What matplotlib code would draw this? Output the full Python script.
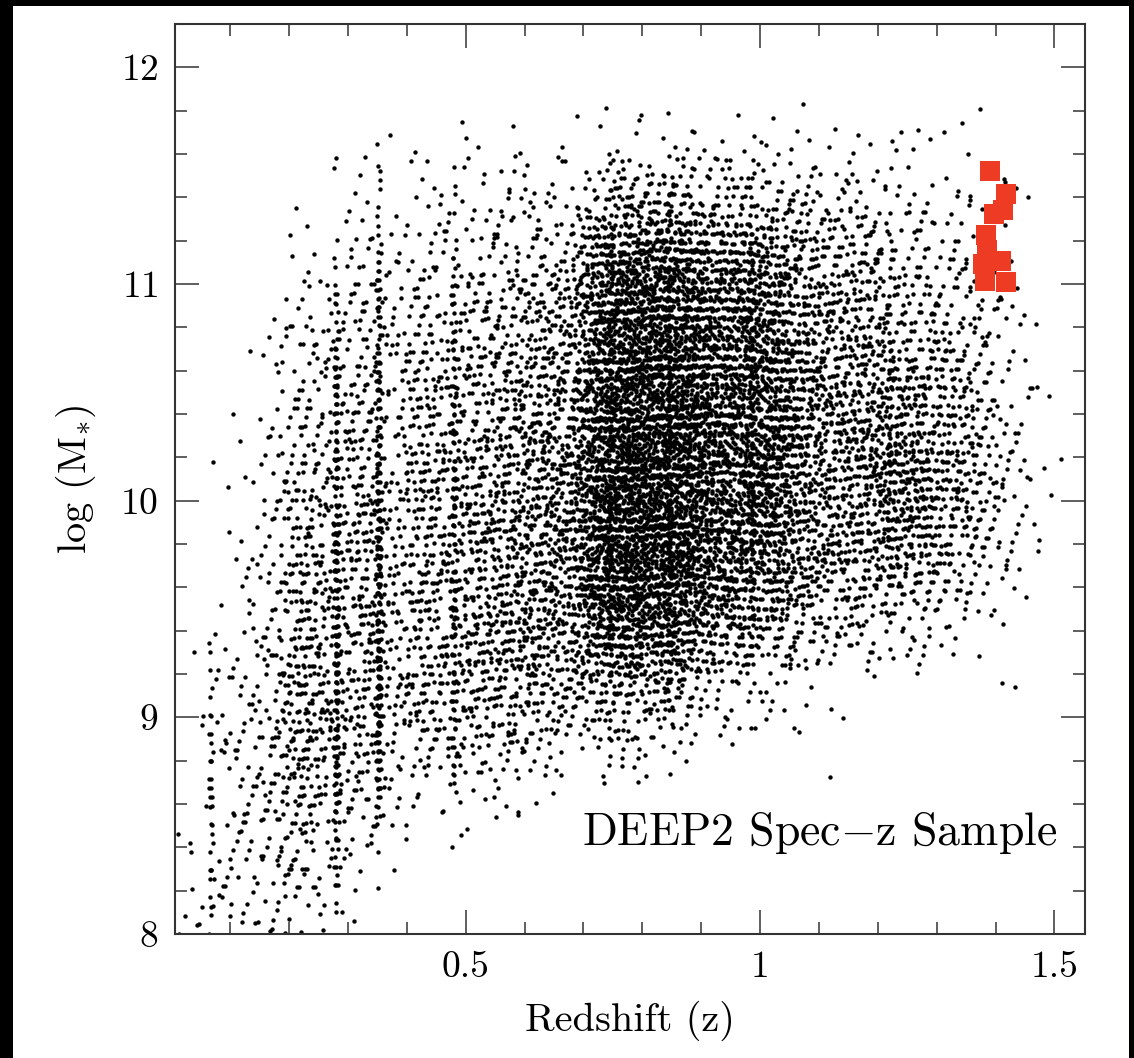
import matplotlib
matplotlib.use("Agg")
import matplotlib.pyplot as plt
import numpy as np
from matplotlib.patches import Rectangle
from matplotlib.ticker import MultipleLocator

plt.rcParams["font.family"] = ["cmr10", "DejaVu Serif"]
plt.rcParams["mathtext.fontset"] = "cm"
plt.rcParams["axes.formatter.use_mathtext"] = True

# bins used to read the cloud off the picture
dz, dm = 0.05, 0.25
z_edges = np.arange(0.0, 1.5, dz)       # 30 redshift bins, 0.00 .. 1.50
m_edges = np.arange(8.0, 12.0, dm)      # 16 mass bins, 8.00 .. 12.00

# galaxies per cell, one row per redshift bin, log(M) from 8.0 upward
counts = [
    [6, 2, 0, 0, 0, 0, 0, 0, 0, 0, 0, 0, 0, 0, 0, 0],
    [12, 10, 12, 12, 10, 2, 0, 0, 1, 0, 0, 0, 0, 0, 0, 0],
    [15, 12, 12, 12, 10, 8, 6, 4, 3, 1, 1, 0, 0, 0, 0, 0],
    [12, 15, 18, 20, 18, 15, 14, 12, 10, 7, 4, 2, 1, 0, 0, 0],
    [10, 20, 30, 40, 45, 40, 35, 30, 25, 20, 15, 10, 5, 1, 0, 0],
    [8, 18, 30, 45, 50, 45, 45, 40, 35, 30, 25, 18, 5, 1, 1, 0],
    [0, 5, 15, 30, 35, 35, 35, 35, 30, 28, 22, 18, 10, 5, 2, 0],
    [0, 6, 20, 40, 45, 45, 45, 40, 35, 30, 28, 22, 15, 6, 3, 0],
    [0, 0, 5, 20, 30, 35, 35, 35, 35, 30, 25, 20, 12, 6, 2, 0],
    [0, 0, 6, 25, 35, 40, 40, 40, 38, 35, 30, 25, 15, 8, 3, 0],
    [0, 0, 5, 22, 35, 40, 40, 40, 38, 32, 28, 22, 14, 7, 3, 0],
    [0, 0, 4, 20, 38, 45, 45, 45, 42, 38, 32, 25, 15, 8, 3, 0],
    [0, 0, 3, 15, 35, 50, 55, 55, 52, 45, 40, 32, 20, 10, 3, 0],
    [0, 0, 0, 8, 28, 45, 55, 55, 50, 45, 40, 32, 22, 10, 3, 0],
    [0, 0, 0, 12, 40, 95, 135, 135, 130, 125, 115, 105, 80, 22, 4, 0],
    [0, 0, 0, 12, 45, 100, 140, 145, 145, 140, 135, 125, 100, 32, 6, 0],
    [0, 0, 0, 8, 40, 95, 140, 150, 150, 145, 140, 130, 110, 36, 7, 0],
    [0, 0, 0, 3, 28, 75, 120, 135, 135, 130, 125, 115, 95, 32, 7, 0],
    [0, 0, 0, 2, 15, 50, 85, 100, 100, 100, 95, 88, 70, 26, 6, 0],
    [0, 0, 0, 1, 12, 42, 85, 105, 110, 110, 105, 95, 75, 26, 6, 0],
    [0, 0, 0, 1, 8, 35, 70, 95, 100, 100, 95, 85, 65, 22, 5, 0],
    [0, 0, 0, 1, 5, 20, 42, 58, 62, 62, 58, 50, 38, 18, 5, 0],
    [0, 0, 0, 0, 2, 15, 35, 45, 50, 50, 45, 40, 30, 14, 4, 0],
    [0, 0, 0, 0, 1, 12, 35, 50, 55, 55, 45, 38, 30, 15, 4, 0],
    [0, 0, 0, 0, 1, 10, 38, 65, 75, 62, 40, 28, 20, 10, 3, 0],
    [0, 0, 0, 0, 0, 8, 32, 58, 62, 50, 35, 25, 18, 8, 3, 0],
    [0, 0, 0, 0, 0, 5, 18, 35, 40, 35, 28, 20, 14, 7, 2, 0],
    [0, 0, 0, 0, 0, 4, 12, 25, 28, 25, 20, 15, 10, 5, 2, 0],
    [0, 0, 0, 0, 0, 2, 6, 12, 12, 10, 8, 6, 4, 2, 1, 0],
    [0, 0, 0, 0, 0, 0, 0, 2, 2, 2, 1, 0, 0, 0, 0, 0],
]

# redshift spikes (vertical stripes) and the share of their bin on them
spike_z = [0.067, 0.28, 0.352, 0.48, 0.745, 0.80, 0.845, 0.985, 1.22]
spike_share = [0.6, 0.5, 0.6, 0.3, 0.1, 0.1, 0.1, 0.12, 0.1]

# the red sample
red_z = [1.391, 1.418, 1.413, 1.397, 1.383, 1.385, 1.379, 1.409, 1.382, 1.418]
red_m = [11.520, 11.414, 11.340, 11.322, 11.228, 11.156, 11.091, 11.106, 11.014, 11.011]

x_ticks = [0.5, 1.0, 1.5]
x_labels = ["0.5", "1", "1.5"]
y_ticks = [8, 9, 10, 11, 12]

# spread each cell's count with a tent kernel one bin wide either side,
# positions from a 4-d Kronecker (low discrepancy) sequence
phi = 1.1673039782614187
alpha = [1.0 / phi ** k for k in range(1, 5)]
spike_of_bin = {}
for s, share in zip(spike_z, spike_share):
    spike_of_bin[int(s // dz)] = (s, share)

zs, ms = [], []
n = 0
for i, row in enumerate(counts):
    for j, c in enumerate(row):
        for k in range(c):
            n += 1
            u1, u2, v1, v2 = [(0.5 + a * n) % 1.0 for a in alpha]
            z = z_edges[i] + (u1 + u2 - 0.5) * dz
            if i in spike_of_bin:
                s, share = spike_of_bin[i]
                if (n * 0.6180339887) % 1.0 < share:
                    z = s + (u1 + u2 - 1.0) * 0.005
            zs.append(z)
            ms.append(m_edges[j] + (v1 + v2 - 0.5) * dm)

fig = plt.figure(figsize=(11.34, 10.58), dpi=100, facecolor="black")
fig.patches.append(Rectangle((13 / 1134, 0), (1129 - 13) / 1134, 1 - 6 / 1058,
                             transform=fig.transFigure, facecolor="white",
                             edgecolor="none", zorder=-10))

ax = fig.add_axes([175 / 1134, 1 - 934 / 1058, 910 / 1134, 910 / 1058])
ax.set_facecolor("white")
ax.scatter(zs, ms, s=10, c="black", linewidths=0, zorder=2)
ax.scatter(red_z, red_m, s=190, marker="s", c="#EE3B24", linewidths=0, zorder=3)

ax.set_xlim(0.006, 1.552)
ax.set_ylim(8.0, 12.2)
ax.set_xticks(x_ticks, labels=x_labels)
ax.set_yticks(y_ticks)
ax.xaxis.set_minor_locator(MultipleLocator(0.1))
ax.yaxis.set_minor_locator(MultipleLocator(0.2))
ax.tick_params(which="both", direction="in", top=True, right=True,
               color="#333333", width=1.1, labelsize=27, pad=12)
ax.tick_params(which="major", length=17)
ax.tick_params(which="minor", length=8.5)
for sp in ax.spines.values():
    sp.set_linewidth(1.5)
    sp.set_color("#333333")

ax.set_xlabel("Redshift (z)", fontsize=29, labelpad=12)
ax.set_ylabel(r"log ($\mathrm{M}_{*}$)", fontsize=29, labelpad=16)
ax.text(0.969, 0.111, r"DEEP2 Spec$-$z Sample", transform=ax.transAxes,
        ha="right", va="center", fontsize=33)

fig.savefig("out.png", dpi=100, facecolor="black")
